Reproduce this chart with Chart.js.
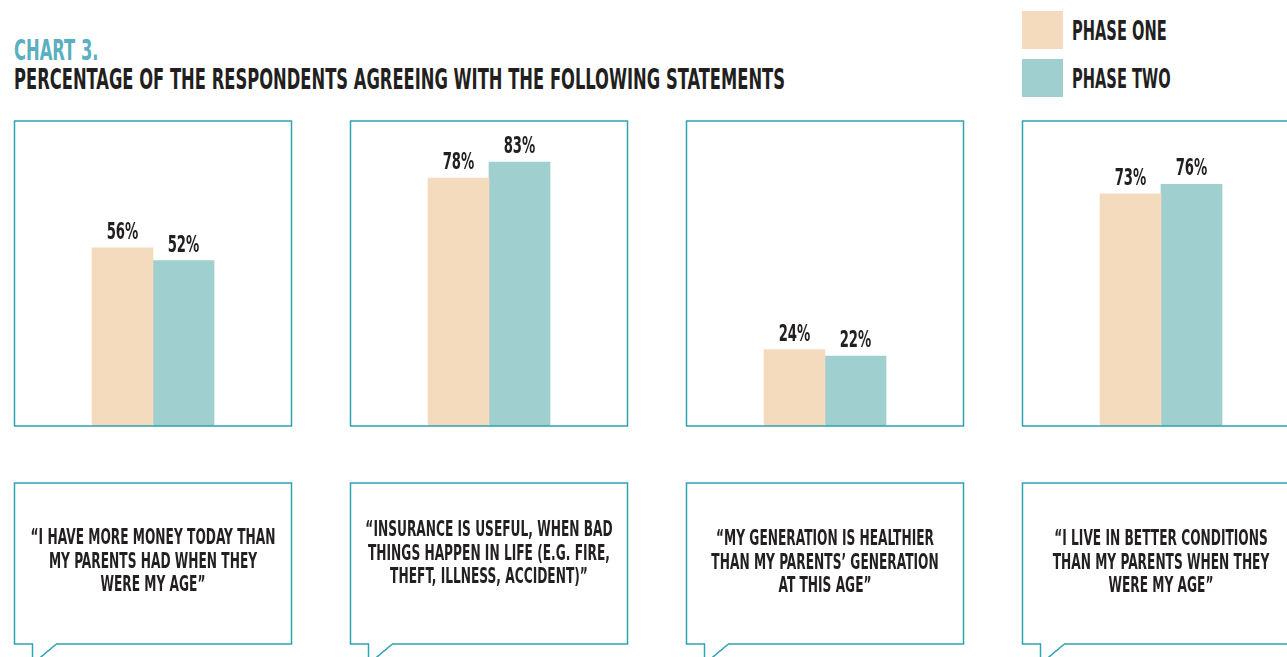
<!DOCTYPE html>
<html>
<head>
<meta charset="utf-8">
<script src="https://cdn.jsdelivr.net/npm/chart.js@4.4.1/dist/chart.umd.min.js"></script>
<style>
  html, body { margin: 0; padding: 0; background: #fff; overflow: hidden; }
  body {
    width: 1287px; height: 657px; position: relative;
    font-family: "Liberation Sans Narrow", "DejaVu Sans Condensed", "DejaVu Sans", sans-serif;
    font-weight: bold; color: #231f20;
  }
  #wrap { position: absolute; left: -15px; top: 0; width: 1344px; height: 657px; }
  .txt { position: absolute; white-space: nowrap; transform-origin: 0 0; }
  #kicker { left: 14px; top: 36px; font-size: 29px; line-height: 29px; color: #5aafc0; }
  #title { left: 14px; top: 65px; font-size: 29px; line-height: 29px; }
  .swatch { position: absolute; left: 1022px; width: 41px; height: 38px; }
  .legtxt { left: 1072px; font-size: 26px; line-height: 26px; }
</style>
</head>
<body>
<div id="kicker" class="txt">CHART 3.</div>
<div id="title" class="txt">PERCENTAGE OF THE RESPONDENTS AGREEING WITH THE FOLLOWING STATEMENTS</div>
<div id="legend"></div>
<div id="wrap"><canvas id="chart"></canvas></div>
<script>
// statements under each pair of bars, one array entry per line
const statements = [
  ['\u201CI HAVE MORE MONEY TODAY THAN', 'MY PARENTS HAD WHEN THEY', 'WERE MY AGE\u201D'],
  ['\u201CINSURANCE IS USEFUL, WHEN BAD', 'THINGS HAPPEN IN LIFE (E.G. FIRE,', 'THEFT, ILLNESS, ACCIDENT)\u201D'],
  ['\u201CMY GENERATION IS HEALTHIER', 'THAN MY PARENTS\u2019 GENERATION', 'AT THIS AGE\u201D'],
  ['\u201CI LIVE IN BETTER CONDITIONS', 'THAN MY PARENTS WHEN THEY', 'WERE MY AGE\u201D']
];
const seriesNames = ['PHASE ONE', 'PHASE TWO'];
const phaseOne = [56, 78, 24, 73];
const phaseTwo = [52, 83, 22, 76];
const seriesColors = ['#f5dbbe', '#9fcfcf'];

const FONT = '"Liberation Sans Narrow", "DejaVu Sans Condensed", "DejaVu Sans", sans-serif';
const BORDER = '#2fa2b3';
const HALF_W = 138.5;          // half width of a panel box
const BOX_TOP = 121;
const BUB_TOP = 483, BUB_BOTTOM = 644;
const TEXT_BASE = 544, LINE_H = 23.5;
const textShift = [0, -8, 1, 1];

// the typeface is a tall condensed one, so squeeze whatever sans we got
const probe = document.createElement('canvas').getContext('2d');
probe.font = 'bold 29px ' + FONT;
const squeeze = 771 / probe.measureText(document.getElementById('title').textContent).width;

document.querySelectorAll('.txt').forEach(el => { el.style.transform = 'scaleX(' + squeeze + ')'; });

// legend
const legend = document.getElementById('legend');
seriesNames.forEach((name, i) => {
  const sw = document.createElement('div');
  sw.className = 'swatch';
  sw.style.top = (11 + i * 48) + 'px';
  sw.style.background = seriesColors[i];
  legend.appendChild(sw);
  const t = document.createElement('div');
  t.className = 'txt legtxt';
  t.style.top = (18 + i * 48) + 'px';
  t.style.transform = 'scaleX(' + squeeze + ')';
  t.textContent = name;
  legend.appendChild(t);
});

function drawSqueezed(ctx, text, x, y, size) {
  ctx.save();
  ctx.translate(x, y);
  ctx.scale(squeeze, 1);
  ctx.font = 'bold ' + size + 'px ' + FONT;
  ctx.fillStyle = '#231f20';
  ctx.textAlign = 'center';
  ctx.textBaseline = 'alphabetic';
  ctx.fillText(text, 0, 0);
  ctx.restore();
}

// panel frames, speech bubbles, statements and value labels
const panelPlugin = {
  id: 'panels',
  afterDatasetsDraw(chart) {
    const { ctx, chartArea, scales: { x } } = chart;
    ctx.save();
    ctx.strokeStyle = BORDER;
    ctx.lineWidth = 1.5;
    chart.data.labels.forEach((lines, i) => {
      const cx = x.getPixelForValue(i);
      const l = cx - HALF_W, r = cx + HALF_W;
      ctx.strokeRect(l, BOX_TOP, r - l, chartArea.bottom - BOX_TOP);

      ctx.beginPath();
      ctx.moveTo(l + 42, BUB_BOTTOM);
      ctx.lineTo(r, BUB_BOTTOM);
      ctx.lineTo(r, BUB_TOP);
      ctx.lineTo(l, BUB_TOP);
      ctx.lineTo(l, BUB_BOTTOM);
      ctx.lineTo(l + 18, BUB_BOTTOM);
      ctx.lineTo(l + 18, BUB_BOTTOM + 20);
      ctx.closePath();
      ctx.stroke();

      lines.forEach((t, k) => drawSqueezed(ctx, t, cx, TEXT_BASE + textShift[i] + k * LINE_H, 21.7));
    });
    chart.data.datasets.forEach((ds, d) => {
      chart.getDatasetMeta(d).data.forEach((bar, i) => {
        drawSqueezed(ctx, ds.data[i] + '%', bar.x, bar.y - 9, 23.5);
      });
    });
    ctx.restore();
  }
};

new Chart(document.getElementById('chart'), {
  type: 'bar',
  data: {
    labels: statements,
    datasets: [
      { label: seriesNames[0], data: phaseOne, backgroundColor: seriesColors[0] },
      { label: seriesNames[1], data: phaseTwo, backgroundColor: seriesColors[1] }
    ]
  },
  options: {
    responsive: true,
    maintainAspectRatio: false,
    animation: false,
    layout: { padding: { top: 108, bottom: 231, left: 0, right: 0 } },
    datasets: { bar: { barThickness: 61, borderWidth: 0 } },
    scales: {
      x: { display: false },
      y: { display: false, min: 0, max: 100 }
    },
    plugins: {
      legend: { display: false },
      tooltip: { enabled: false }
    }
  },
  plugins: [panelPlugin]
});
</script>
</body>
</html>
